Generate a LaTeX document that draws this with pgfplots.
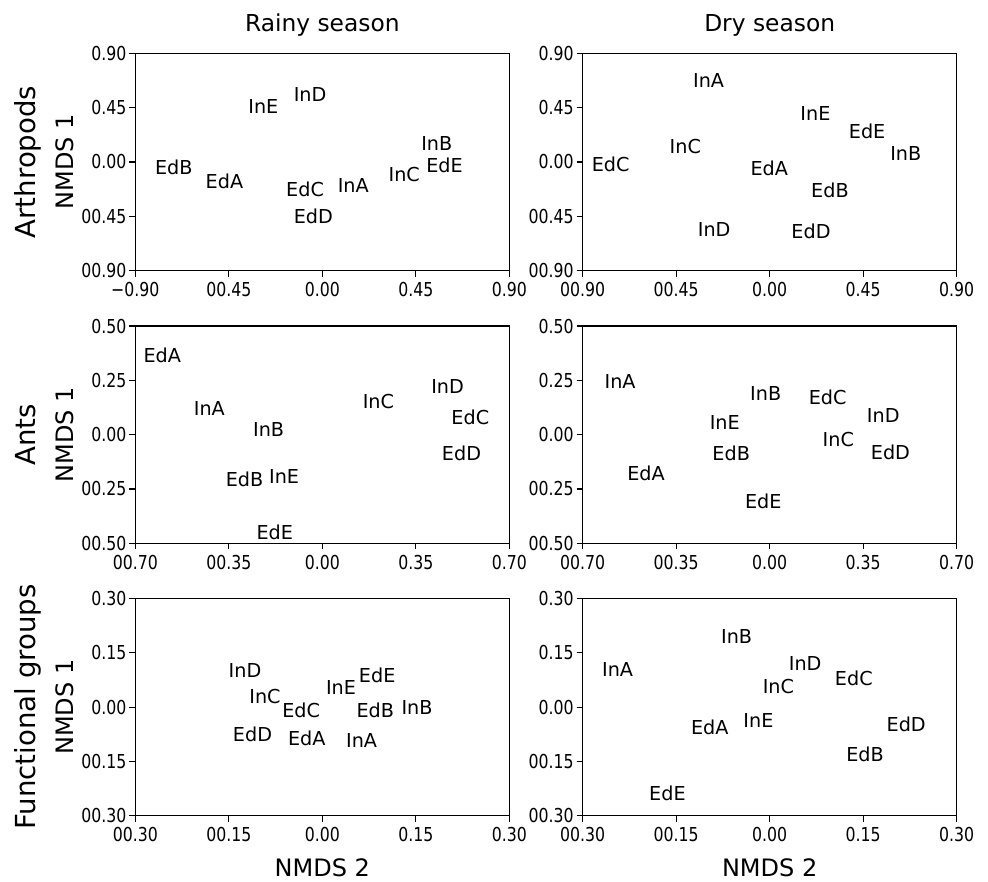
\documentclass[border=0pt]{standalone}
\usepackage{fontspec}
\setmainfont{DejaVu Sans}
\newfontfamily\tickfont[FakeStretch=0.82]{DejaVu Sans}
\usepackage{pgfplots}
\pgfplotsset{compat=1.18}
\pgfplotsset{
  panel/.style={
    scale only axis, width=280.5pt, height=163pt, anchor=south west,
    axis line style={line width=0.8pt, black},
    tick style={black, line width=0.8pt}, major tick length=4.5pt, tick align=outside,
    xtick pos=bottom, ytick pos=left,
    tick label style={font=\tickfont\fontsize{14.4}{16}\selectfont, inner sep=0pt},
    xticklabel style={yshift=-4pt}, yticklabel style={xshift=-2pt},
    clip=false,
  },
  labs/.style={draw=none, mark=none, nodes near coords, point meta=explicit symbolic,
    nodes near coords style={anchor=center, inner sep=0pt, text=black,
      font=\fontsize{14.4}{16}\selectfont}},
}
\newcommand\rowlab[1]{\node[rotate=90, anchor=base, font=\fontsize{20.7}{24}\selectfont] at ([xshift=-74.5pt]rel axis cs:0,0.5) {#1};}
\newcommand\nmdsone{\node[rotate=90, anchor=base, font=\fontsize{18}{21}\selectfont] at ([xshift=-46pt]rel axis cs:0,0.5) {NMDS 1};}
\newcommand\nmdstwo{\node[anchor=base, font=\fontsize{18}{21}\selectfont] at ([yshift=-45.75pt]rel axis cs:0.5,0) {NMDS 2};}
\newcommand\coltitle[1]{\node[anchor=base, font=\fontsize{17.5}{21}\selectfont] at ([yshift=16.7pt]rel axis cs:0.5,1) {#1};}
\begin{document}
\begin{tikzpicture}
\useasboundingbox (0,0) rectangle (741pt,-660.75pt);
% ---------------- Arthropods, rainy
\begin{axis}[panel, at={(101.5pt,-203pt)},
  xmin=-0.9, xmax=0.9, ymin=-0.9, ymax=0.9,
  xtick={-0.9,-0.45,0,0.45,0.9}, xticklabels={{−0.90},{00.45},{0.00},{0.45},{0.90}},
  ytick={-0.9,-0.45,0,0.45,0.9}, yticklabels={{00.90},{00.45},{0.00},{0.45},{0.90}}]
\addplot[labs] table[meta=lab, row sep=\\] {
x y lab\\
-0.284 0.458 InE\\
-0.059 0.561 InD\\
0.551 0.151 InB\\
0.588 -0.029 EdE\\
0.394 -0.105 InC\\
-0.715 -0.046 EdB\\
-0.471 -0.157 EdA\\
-0.083 -0.226 EdC\\
0.149 -0.192 InA\\
-0.043 -0.450 EdD\\
};
\rowlab{Arthropods}
\nmdsone
\coltitle{Rainy season}
\end{axis}
% ---------------- Arthropods, dry
\begin{axis}[panel, at={(437pt,-203pt)},
  xmin=-0.9, xmax=0.9, ymin=-0.9, ymax=0.9,
  xtick={-0.9,-0.45,0,0.45,0.9}, xticklabels={{00.90},{00.45},{0.00},{0.45},{0.90}},
  ytick={-0.9,-0.45,0,0.45,0.9}, yticklabels={{00.90},{00.45},{0.00},{0.45},{0.90}}]
\addplot[labs] table[meta=lab, row sep=\\] {
x y lab\\
-0.294 0.677 InA\\
0.220 0.403 InE\\
0.469 0.253 EdE\\
0.655 0.072 InB\\
-0.406 0.126 InC\\
-0.765 -0.018 EdC\\
-0.002 -0.051 EdA\\
0.290 -0.236 EdB\\
-0.267 -0.563 InD\\
0.199 -0.578 EdD\\
};
\coltitle{Dry season}
\end{axis}
% ---------------- Ants, rainy
\begin{axis}[panel, at={(101.5pt,-407.5pt)},
  xmin=-0.7, xmax=0.7, ymin=-0.5, ymax=0.5,
  xtick={-0.7,-0.35,0,0.35,0.7}, xticklabels={{00.70},{00.35},{0.00},{0.35},{0.70}},
  ytick={-0.5,-0.25,0,0.25,0.5}, yticklabels={{00.50},{00.25},{0.00},{0.25},{0.50}}]
\addplot[labs] table[meta=lab, row sep=\\] {
x y lab\\
-0.599 0.364 EdA\\
-0.423 0.119 InA\\
-0.201 0.025 InB\\
-0.291 -0.205 EdB\\
-0.143 -0.191 InE\\
-0.178 -0.449 EdE\\
0.210 0.151 InC\\
0.469 0.222 InD\\
0.554 0.079 EdC\\
0.521 -0.085 EdD\\
};
\rowlab{Ants}
\nmdsone
\end{axis}
% ---------------- Ants, dry
\begin{axis}[panel, at={(437pt,-407.5pt)},
  xmin=-0.7, xmax=0.7, ymin=-0.5, ymax=0.5,
  xtick={-0.7,-0.35,0,0.35,0.7}, xticklabels={{00.70},{00.35},{0.00},{0.35},{0.70}},
  ytick={-0.5,-0.25,0,0.25,0.5}, yticklabels={{00.50},{00.25},{0.00},{0.25},{0.50}}]
\addplot[labs] table[meta=lab, row sep=\\] {
x y lab\\
-0.560 0.245 InA\\
-0.463 -0.177 EdA\\
-0.015 0.190 InB\\
-0.168 0.056 InE\\
-0.144 -0.086 EdB\\
-0.024 -0.309 EdE\\
0.217 0.174 EdC\\
0.257 -0.021 InC\\
0.425 0.087 InD\\
0.452 -0.082 EdD\\
};
\end{axis}
% ---------------- Functional groups, rainy
\begin{axis}[panel, at={(101.5pt,-611.8pt)},
  xmin=-0.3, xmax=0.3, ymin=-0.3, ymax=0.3,
  xtick={-0.3,-0.15,0,0.15,0.3}, xticklabels={{00.30},{00.15},{0.00},{0.15},{0.30}},
  ytick={-0.3,-0.15,0,0.15,0.3}, yticklabels={{00.30},{00.15},{0.00},{0.15},{0.30}}]
\addplot[labs] table[meta=lab, row sep=\\] {
x y lab\\
-0.124 0.101 InD\\
-0.092 0.030 InC\\
-0.034 -0.010 EdC\\
-0.112 -0.075 EdD\\
-0.025 -0.085 EdA\\
0.030 0.055 InE\\
0.088 0.087 EdE\\
0.085 -0.008 EdB\\
0.152 0.000 InB\\
0.063 -0.093 InA\\
};
\rowlab{Functional groups}
\nmdsone
\nmdstwo
\end{axis}
% ---------------- Functional groups, dry
\begin{axis}[panel, at={(437pt,-611.8pt)},
  xmin=-0.3, xmax=0.3, ymin=-0.3, ymax=0.3,
  xtick={-0.3,-0.15,0,0.15,0.3}, xticklabels={{00.30},{00.15},{0.00},{0.15},{0.30}},
  ytick={-0.3,-0.15,0,0.15,0.3}, yticklabels={{00.30},{00.15},{0.00},{0.15},{0.30}}]
\addplot[labs] table[meta=lab, row sep=\\] {
x y lab\\
-0.053 0.196 InB\\
-0.244 0.103 InA\\
0.057 0.120 InD\\
0.014 0.058 InC\\
0.135 0.080 EdC\\
-0.018 -0.037 InE\\
-0.096 -0.057 EdA\\
0.219 -0.047 EdD\\
0.153 -0.130 EdB\\
-0.164 -0.238 EdE\\
};
\nmdstwo
\end{axis}
\end{tikzpicture}
\end{document}
